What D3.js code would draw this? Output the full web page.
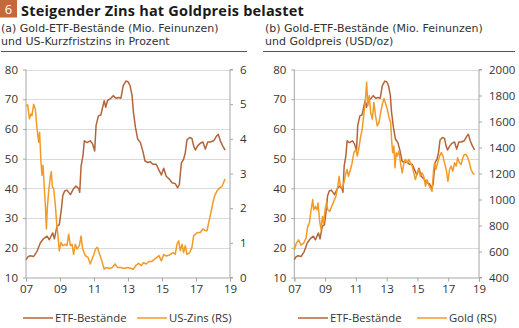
<!DOCTYPE html>
<html><head><meta charset="utf-8">
<script src="https://cdn.jsdelivr.net/npm/d3@7"></script>
<style>
html,body{margin:0;padding:0;background:#fff;}
svg{display:block;font-family:"Open Sans",sans-serif;}
</style></head><body>
<svg id="c" width="519" height="328"></svg>
<script>
// ---------- DATA ----------
const title = "Steigender Zins hat Goldpreis belastet";
const chartNo = "6";
const subA = ["(a) Gold-ETF-Bestände (Mio. Feinunzen)", "und US-Kurzfristzins in Prozent"];
const subB = ["(b) Gold-ETF-Bestände (Mio. Feinunzen)", "und Goldpreis (USD/oz)"];
const xTicks = [2007, 2009, 2011, 2013, 2015, 2017, 2019];
const xTickLabels = ["07", "09", "11", "13", "15", "17", "19"];
const leftTicks = [10, 20, 30, 40, 50, 60, 70, 80];
const rateTicks = [0, 1, 2, 3, 4, 5, 6];
const goldTicks = [400, 600, 800, 1000, 1200, 1400, 1600, 1800, 2000];
const legendA = ["ETF-Bestände", "US-Zins (RS)"];
const legendB = ["ETF-Bestände", "Gold (RS)"];

// Gold-ETF holdings (Mio. oz) [year, value]
const etf = [
[2007.0,16.0],[2007.12,17.0],[2007.25,17.3],[2007.45,17.1],[2007.65,18.8],[2007.84,21.6],[2008.04,23.1],[2008.24,23.9],
[2008.37,22.7],[2008.57,25.0],[2008.67,23.0],[2008.82,27.2],[2008.96,27.8],[2009.08,32.9],[2009.16,37.4],[2009.27,39.1],
[2009.41,39.4],[2009.61,37.9],[2009.8,39.9],[2009.94,40.8],[2010.1,39.9],[2010.16,38.7],[2010.24,47.5],[2010.35,50.9],
[2010.43,56.0],[2010.59,55.4],[2010.78,56.0],[2010.92,54.9],[2011.04,52.6],[2011.12,61.1],[2011.26,64.4],[2011.4,64.7],
[2011.53,67.8],[2011.6,69.5],[2011.69,67.3],[2011.79,69.5],[2011.99,70.3],[2012.13,71.2],[2012.29,70.3],[2012.45,70.6],
[2012.58,70.3],[2012.72,74.6],[2012.88,76.1],[2013.0,75.9],[2013.12,74.6],[2013.24,71.2],[2013.32,65.6],[2013.44,60.5],
[2013.57,56.6],[2013.73,55.4],[2013.87,52.6],[2014.0,49.2],[2014.17,48.7],[2014.3,49.0],[2014.47,48.1],[2014.66,48.1],
[2014.8,46.4],[2014.96,44.5],[2015.1,46.8],[2015.25,44.1],[2015.45,43.0],[2015.59,41.9],[2015.78,41.6],[2015.92,40.2],
[2016.02,41.3],[2016.14,48.6],[2016.27,49.8],[2016.37,52.0],[2016.47,56.3],[2016.63,57.1],[2016.76,56.8],[2016.86,54.3],
[2016.96,52.9],[2017.1,54.3],[2017.25,55.2],[2017.41,55.6],[2017.55,53.2],[2017.69,55.6],[2017.84,55.6],[2018.04,56.0],
[2018.2,57.5],[2018.31,58.2],[2018.43,56.0],[2018.57,54.3],[2018.71,52.9]
];

// US short-term rate (%) [year, value]
const usRate = [
[2007.0,4.96],[2007.1,4.98],[2007.2,4.58],[2007.29,4.72],[2007.35,4.67],[2007.45,5.0],[2007.55,4.86],[2007.65,4.29],
[2007.75,3.9],[2007.8,4.19],[2007.88,3.33],[2007.94,2.95],[2008.0,3.24],[2008.08,2.56],[2008.14,2.07],[2008.2,1.4],
[2008.25,1.98],[2008.33,2.47],[2008.43,2.9],[2008.49,3.05],[2008.55,2.61],[2008.63,2.56],[2008.73,2.07],[2008.8,1.59],
[2008.88,1.2],[2008.96,0.77],[2009.06,1.01],[2009.16,0.92],[2009.31,0.96],[2009.41,0.92],[2009.51,1.25],[2009.61,0.92],
[2009.71,0.96],[2009.8,0.67],[2009.9,0.96],[2010.0,0.82],[2010.14,0.92],[2010.24,1.2],[2010.33,0.82],[2010.49,0.63],
[2010.65,0.58],[2010.78,0.39],[2010.92,0.58],[2011.0,0.67],[2011.08,0.82],[2011.2,0.87],[2011.3,0.72],[2011.46,0.48],
[2011.6,0.24],[2011.73,0.29],[2011.89,0.26],[2012.09,0.29],[2012.23,0.39],[2012.39,0.29],[2012.58,0.29],[2012.78,0.26],
[2012.98,0.29],[2013.18,0.26],[2013.32,0.24],[2013.48,0.36],[2013.63,0.41],[2013.77,0.34],[2013.91,0.43],[2014.07,0.39],
[2014.23,0.46],[2014.39,0.46],[2014.56,0.53],[2014.7,0.58],[2014.82,0.63],[2014.96,0.48],[2015.1,0.66],[2015.25,0.62],
[2015.45,0.65],[2015.65,0.72],[2015.78,0.67],[2015.88,0.96],[2015.98,1.06],[2016.08,0.77],[2016.18,0.96],[2016.27,0.72],
[2016.37,0.92],[2016.47,0.67],[2016.63,0.72],[2016.76,0.87],[2016.86,1.2],[2016.96,1.25],[2017.1,1.3],[2017.25,1.3],
[2017.41,1.4],[2017.55,1.35],[2017.65,1.35],[2017.75,1.59],[2017.88,1.88],[2018.0,2.17],[2018.1,2.36],[2018.24,2.5],
[2018.33,2.55],[2018.43,2.6],[2018.53,2.63],[2018.63,2.75],[2018.71,2.84]
];

// Gold price (USD/oz) [year, value]
const gold = [
[2007.0,612],[2007.13,663],[2007.28,689],[2007.43,650],[2007.6,663],[2007.76,702],[2007.87,792],[2007.98,818],
[2008.09,921],[2008.2,999],[2008.26,921],[2008.37,947],[2008.48,921],[2008.54,973],[2008.65,831],[2008.74,766],
[2008.83,870],[2008.91,818],[2009.0,921],[2009.09,973],[2009.17,921],[2009.3,908],[2009.43,947],[2009.57,986],
[2009.7,1024],[2009.83,1102],[2009.91,1179],[2010.0,1102],[2010.11,1089],[2010.22,1128],[2010.33,1192],[2010.43,1231],
[2010.52,1179],[2010.65,1231],[2010.76,1282],[2010.87,1360],[2011.0,1386],[2011.09,1334],[2011.2,1398],[2011.3,1476],
[2011.41,1540],[2011.52,1656],[2011.61,1747],[2011.7,1902],[2011.78,1721],[2011.87,1798],[2011.96,1669],[2012.07,1618],
[2012.17,1747],[2012.28,1644],[2012.39,1566],[2012.5,1592],[2012.61,1669],[2012.72,1734],[2012.83,1778],[2012.94,1734],
[2013.04,1695],[2013.15,1631],[2013.26,1592],[2013.32,1463],[2013.39,1360],[2013.47,1411],[2013.54,1244],[2013.62,1360],
[2013.69,1334],[2013.8,1373],[2013.9,1282],[2014.01,1205],[2014.12,1282],[2014.23,1308],[2014.33,1282],[2014.44,1308],
[2014.55,1282],[2014.66,1257],[2014.76,1205],[2014.87,1153],[2014.98,1205],[2015.09,1231],[2015.19,1179],[2015.3,1205],
[2015.41,1179],[2015.52,1102],[2015.62,1153],[2015.73,1115],[2015.84,1089],[2015.95,1063],[2016.05,1231],[2016.12,1282],
[2016.2,1231],[2016.31,1282],[2016.44,1334],[2016.55,1360],[2016.66,1334],[2016.76,1282],[2016.87,1231],[2016.98,1140],
[2017.09,1231],[2017.19,1257],[2017.3,1218],[2017.41,1282],[2017.52,1257],[2017.61,1321],[2017.73,1282],[2017.84,1270],
[2017.95,1321],[2018.05,1347],[2018.16,1347],[2018.27,1321],[2018.38,1282],[2018.48,1231],[2018.59,1205],[2018.7,1192]
];

// ---------- STYLE ----------
const BROWN = "#b2653a";
const ORANGE = "#f39a26";
const TEXT = "#333333";
const AXIS = "#a6a6a6";
const GRID = "#dadada";

const svg = d3.select("#c");

// Title
svg.append("rect").attr("x", 0).attr("y", 0).attr("width", 17).attr("height", 17.5).attr("fill", "#c4693a");
svg.append("text").attr("x", 8.5).attr("y", 14.2).attr("text-anchor", "middle")
  .attr("fill", "#fff").attr("font-size", 13).text(chartNo);
svg.append("text").attr("x", 21).attr("y", 15.6).attr("fill", "#1a1a1a")
  .attr("font-size", 14.5).attr("letter-spacing", 0.2).attr("font-weight", "bold").text(title);

function panel(opt) {
  const g = svg.append("g");
  // subtitle
  opt.sub.forEach((s, i) => {
    g.append("text").attr("x", opt.subX).attr("y", 32 + i * 13.4).attr("fill", TEXT)
      .attr("font-family", "'DejaVu Sans',sans-serif")
      .attr("font-size", 11).text(s);
  });
  g.append("line").attr("x1", opt.ulX0).attr("x2", opt.ulX1).attr("y1", 51.5).attr("y2", 51.5)
    .attr("stroke", "#555").attr("stroke-width", 1);

  const x = d3.scaleLinear().domain([2007, 2019]).range([opt.x0, opt.x1]);
  const yL = d3.scaleLinear().domain([10, 80]).range([277.5, 69.5]);
  const yR = d3.scaleLinear().domain(opt.rDomain).range([277.5, 69.5]);

  // grid
  g.append("g").selectAll("line").data(leftTicks.filter(d => d > 10)).join("line")
    .attr("x1", opt.x0).attr("x2", opt.x1)
    .attr("y1", d => Math.round(yL(d)) + 0.5).attr("y2", d => Math.round(yL(d)) + 0.5)
    .attr("stroke", GRID).attr("stroke-width", 1);

  // left axis
  const la = g.append("g").attr("transform", `translate(${opt.x0},0)`)
    .call(d3.axisLeft(yL).tickValues(leftTicks).tickSize(3).tickPadding(5).tickFormat(d3.format("d")));
  // right axis
  const ra = g.append("g").attr("transform", `translate(${opt.x1},0)`)
    .call(d3.axisRight(yR).tickValues(opt.rTicks).tickSize(3).tickPadding(7).tickFormat(d3.format("d")));
  // bottom axis
  const ba = g.append("g").attr("transform", `translate(0,277.5)`)
    .call(d3.axisBottom(x).tickValues(xTicks).tickSize(4).tickPadding(3)
      .tickFormat((d, i) => xTickLabels[i]));
  [la, ra, ba].forEach(a => {
    a.select(".domain").attr("stroke", AXIS);
    a.selectAll(".tick line").attr("stroke", AXIS);
    a.selectAll(".tick text").attr("fill", TEXT).attr("font-size", 11.5)
      .attr("font-family", "'Open Sans',sans-serif");
  });
  ra.select(".domain").attr("d", `M3,69.5H0V277.5H3`);
  la.select(".domain").attr("d", `M0,69.5V277.5`);

  const line = (ys) => d3.line().x(d => x(d[0])).y(d => ys(d[1]));
  opt.series.forEach(s => {
    g.append("path").datum(s.data).attr("fill", "none").attr("stroke", s.color)
      .attr("stroke-width", 1.5).attr("stroke-linejoin", "round")
      .attr("d", line(s.right ? yR : yL));
  });

  // legend
  opt.legend.forEach((l, i) => {
    g.append("line").attr("x1", l.lx).attr("x2", l.lx + 30).attr("y1", 318).attr("y2", 318)
      .attr("stroke", l.color).attr("stroke-width", 1.5);
    g.append("text").attr("x", l.lx + 32).attr("y", 322).attr("fill", TEXT)
      .attr("font-size", 11.3).text(l.text);
  });
}

panel({
  sub: subA, subX: 1, ulX0: 1, ulX1: 247,
  x0: 26, x1: 230, rDomain: [0, 6], rTicks: rateTicks,
  series: [{data: etf, color: BROWN, right: false}, {data: usRate, color: ORANGE, right: true}],
  legend: [{lx: 23, color: BROWN, text: legendA[0]}, {lx: 137, color: ORANGE, text: legendA[1]}]
});
panel({
  sub: subB, subX: 265, ulX0: 263, ulX1: 515,
  x0: 294.3, x1: 479, rDomain: [400, 2000], rTicks: goldTicks,
  series: [{data: etf, color: BROWN, right: false}, {data: gold, color: ORANGE, right: true}],
  legend: [{lx: 298, color: BROWN, text: legendB[0]}, {lx: 417, color: ORANGE, text: legendB[1]}]
});
</script>
</body></html>
